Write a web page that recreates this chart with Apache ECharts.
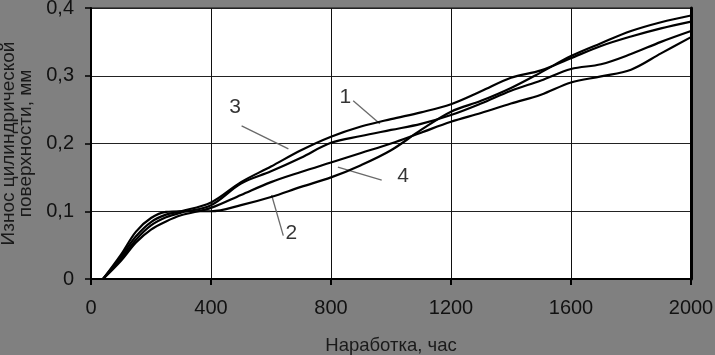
<!DOCTYPE html>
<html>
<head>
<meta charset="utf-8">
<script src="https://cdn.jsdelivr.net/npm/echarts@6/dist/echarts.min.js"></script>
<style>
html,body{margin:0;padding:0;background:#808080;}
#c{width:715px;height:355px;}
</style>
</head>
<body>
<div id="c"></div>
<script>
// Hours of operation (x) for every curve
const hours = [40, 100, 150, 200, 250, 300, 400, 500, 600, 700, 800, 900, 1000, 1100, 1200, 1300, 1400, 1500, 1600, 1700, 1800, 1900, 2000];
// Wear, mm
const curve1 = [0, 0.033, 0.063, 0.084, 0.095, 0.100, 0.113, 0.143, 0.166, 0.190, 0.210, 0.225, 0.236, 0.246, 0.258, 0.277, 0.297, 0.308, 0.326, 0.344, 0.358, 0.370, 0.380];
const curve2 = [0, 0.036, 0.070, 0.090, 0.099, 0.100, 0.100, 0.109, 0.121, 0.136, 0.150, 0.168, 0.190, 0.220, 0.247, 0.263, 0.282, 0.305, 0.329, 0.348, 0.366, 0.379, 0.389];
const curve3 = [0, 0.030, 0.058, 0.079, 0.091, 0.098, 0.109, 0.141, 0.159, 0.179, 0.201, 0.211, 0.220, 0.229, 0.242, 0.259, 0.278, 0.293, 0.310, 0.317, 0.332, 0.350, 0.366];
const curve4 = [0, 0.027, 0.054, 0.073, 0.085, 0.094, 0.105, 0.124, 0.143, 0.158, 0.172, 0.186, 0.200, 0.216, 0.232, 0.245, 0.259, 0.272, 0.290, 0.299, 0.309, 0.333, 0.357];

// Curve number labels (data coordinates)
const labelNames = ['1', '2', '3', '4'];
const labelX = [848, 668, 480, 1040];
const labelY = [0.269, 0.068, 0.254, 0.152];
// Leader lines: start and end in data coordinates
const leaderX1 = [874, 602, 502, 823];
const leaderY1 = [0.263, 0.124, 0.226, 0.165];
const leaderX2 = [963, 641, 658, 969];
const leaderY2 = [0.229, 0.064, 0.192, 0.146];

const xTicks = [0, 400, 800, 1200, 1600, 2000];
const yTicks = [0, 0.1, 0.2, 0.3, 0.4];

function pairs(ys) { return hours.map((h, i) => [h, ys[i]]); }

const curveSeries = [curve1, curve2, curve3, curve4].map((c, i) => ({
  name: 'curve' + (i + 1),
  type: 'line',
  data: pairs(c),
  smooth: 0.35,
  symbol: 'none',
  lineStyle: { color: '#000', width: 2.2 },
  z: 5
}));

const chart = echarts.init(document.getElementById('c'), null, { renderer: 'canvas' });
chart.setOption({
  backgroundColor: '#808080',
  animation: false,
  grid: {
    left: 91, right: 24, top: 8, bottom: 76,
    containLabel: false, outerBoundsMode: 'none',
    show: true, backgroundColor: '#ffffff', borderColor: '#111', borderWidth: 1
  },
  xAxis: {
    type: 'value', min: 0, max: 2000, interval: 400,
    name: 'Наработка, час', nameLocation: 'middle', nameGap: 57,
    nameTextStyle: { fontFamily: 'Liberation Sans', fontSize: 18.5, color: '#1a1a1a' },
    axisLine: { show: true, onZero: false, lineStyle: { color: '#000', width: 2 } },
    axisTick: { show: true, length: 6, lineStyle: { color: '#000', width: 2 } },
    axisLabel: { fontFamily: 'Liberation Sans', fontSize: 20, color: '#111', margin: 19,
      formatter: v => xTicks.includes(v) ? String(v) : '' },
    splitLine: { show: true, lineStyle: { color: '#111', width: 1 } }
  },
  yAxis: [{
    type: 'value', min: 0, max: 0.4, interval: 0.1,
    name: 'Износ цилиндрической\nповерхности, мм', nameLocation: 'middle', nameGap: 55, nameRotate: 90,
    nameTextStyle: { fontFamily: 'Liberation Sans', fontSize: 19, color: '#1a1a1a', lineHeight: 17 },
    axisLine: { show: true, lineStyle: { color: '#000', width: 2 } },
    axisTick: { show: true, length: 6, lineStyle: { color: '#000', width: 1.5 } },
    axisLabel: { fontFamily: 'Liberation Sans', fontSize: 20, color: '#111', margin: 17,
      formatter: v => { const t = yTicks.find(k => Math.abs(k - v) < 1e-9); return t === undefined ? '' : (t === 0 ? '0' : t.toFixed(1).replace('.', ',')); } },
    splitLine: { show: true, lineStyle: { color: '#222', width: 1 } }
  }, {
    type: 'value', min: 0, max: 0.4, interval: 0.1, position: 'right',
    axisLine: { show: true, lineStyle: { color: '#000', width: 3 } },
    axisTick: { show: false }, axisLabel: { show: false }, splitLine: { show: false }
  }],
  series: curveSeries.concat([
    {
      name: 'leaders', type: 'lines', coordinateSystem: 'cartesian2d', z: 4,
      lineStyle: { color: '#6a6a6a', width: 1.3, opacity: 1 },
      data: labelNames.map((n, i) => ({ coords: [[leaderX1[i], leaderY1[i]], [leaderX2[i], leaderY2[i]]] }))
    },
    {
      name: 'labels', type: 'scatter', symbolSize: 0, z: 6,
      data: labelNames.map((n, i) => ({ value: [labelX[i], labelY[i]], name: n })),
      label: { show: true, position: 'inside', formatter: p => p.name,
        fontFamily: 'Liberation Sans', fontSize: 21, color: '#000' }
    }
  ])
});
</script>
</body>
</html>
